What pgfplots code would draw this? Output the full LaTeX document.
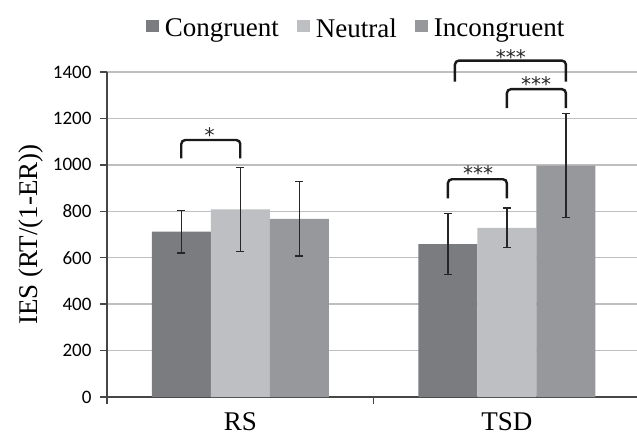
\documentclass[border=0pt]{standalone}
\usepackage{pgfplots}
\pgfplotsset{compat=1.18}
\usepackage{fontspec}
\setmainfont{Liberation Serif}
\newfontfamily\carlito{Carlito}
\newfontfamily\dejavu{DejaVu Sans}
\definecolor{cong}{RGB}{123,124,128}
\definecolor{neut}{RGB}{190,191,195}
\definecolor{inco}{RGB}{151,152,156}
\definecolor{gridc}{RGB}{190,190,190}
\definecolor{axc}{RGB}{70,70,70}
\begin{document}
\begin{tikzpicture}[x=1pt,y=1pt]
\useasboundingbox (-107pt,-40pt) rectangle (530pt,397pt);
\begin{axis}[
  at={(0pt,0pt)}, anchor=south west,
  scale only axis, width=530pt, height=325pt,
  xmin=-0.5, xmax=1.488, ymin=0, ymax=1400,
  axis x line=bottom, axis y line=left,
  axis line style={-, color=axc, line width=1.3pt},
  tick align=outside, major tick length=7pt,
  tick style={color=axc, line width=1.3pt},
  xtick={-0.5,0.5,1.5}, xticklabels={},
  extra x ticks={0,1}, extra x tick labels={RS,TSD},
  extra x tick style={major tick length=0pt, xticklabel style={font=\fontsize{27}{27}\selectfont, text depth=0pt, inner sep=0pt, yshift=-15pt}},
  ytick={0,200,...,1400},
  ymajorgrids, grid style={color=gridc, line width=1.3pt},
  yticklabel style={font=\fontsize{19}{19}\carlito, xshift=-5pt},
  /pgf/number format/assume math mode=true,
  /pgf/number format/1000 sep={},
  ylabel={IES (RT/(1-ER))},
  y label style={at={(axis description cs:-0.1434,0.5)}, anchor=center, font=\fontsize{27}{27}\selectfont},
  ybar, bar width=0.2214,
  legend columns=-1,
  legend style={at={(axis description cs:0.470,1)}, anchor=south, yshift=31pt, draw=none, fill=none,
    font=\fontsize{27}{27}\selectfont, inner sep=0pt,
    /tikz/every odd column/.append style={column sep=4pt},
    /tikz/every even column/.append style={column sep=16pt}},
  legend image code/.code={\fill[#1] (0pt,-3pt) rectangle (13pt,9pt);},
  clip=false,
  error bars/y dir=both, error bars/y explicit,
  error bars/error bar style={line width=1.3pt, color=black!85},
  error bars/error mark options={rotate=90, mark size=4pt, line width=1.3pt, color=black!85},
]
\addplot[fill=cong, draw=none, bar shift=-0.2214] coordinates {
  (0,712) +- (0,92)
  (1,659) +- (0,130)
};
\addplot[fill=neut, draw=none, bar shift=0] coordinates {
  (0,808) +- (0,182)
  (1,729) +- (0,85)
};
\addplot[fill=inco, draw=none, bar shift=0.2214] coordinates {
  (0,767) +- (0,160)
  (1,997) +- (0,224)
};
\legend{Congruent,Neutral,Incongruent}
% significance brackets
\draw[line width=2.4pt, rounded corners=4pt, color=black!90] (axis cs:-0.2214,1028) -- (axis cs:-0.2214,1107) -- (axis cs:0,1107) -- (axis cs:0,1028);
\draw[line width=2.4pt, rounded corners=4pt, color=black!90] (axis cs:0.7786,856) -- (axis cs:0.7786,938) -- (axis cs:1,938) -- (axis cs:1,856);
\draw[line width=2.4pt, rounded corners=4pt, color=black!90] (axis cs:1,1244) -- (axis cs:1,1326) -- (axis cs:1.2214,1326) -- (axis cs:1.2214,1244);
\draw[line width=2.4pt, rounded corners=4pt, color=black!90] (axis cs:0.805,1359) -- (axis cs:0.805,1449) -- (axis cs:1.2214,1449) -- (axis cs:1.2214,1359);
\node[font=\fontsize{20}{20}\dejavu, color=black!85, inner sep=0pt, anchor=center, yshift=-4pt] at (axis cs:-0.115,1146) {*};
\node[font=\fontsize{20}{20}\dejavu, color=black!85, inner sep=0pt, anchor=center, yshift=-4pt] at (axis cs:0.892,981) {***};
\node[font=\fontsize{20}{20}\dejavu, color=black!85, inner sep=0pt, anchor=center, yshift=-4pt] at (axis cs:1.110,1366) {***};
\node[font=\fontsize{20}{20}\dejavu, color=black!85, inner sep=0pt, anchor=center, yshift=-4pt] at (axis cs:1.015,1483) {***};
\end{axis}
\end{tikzpicture}
\end{document}
